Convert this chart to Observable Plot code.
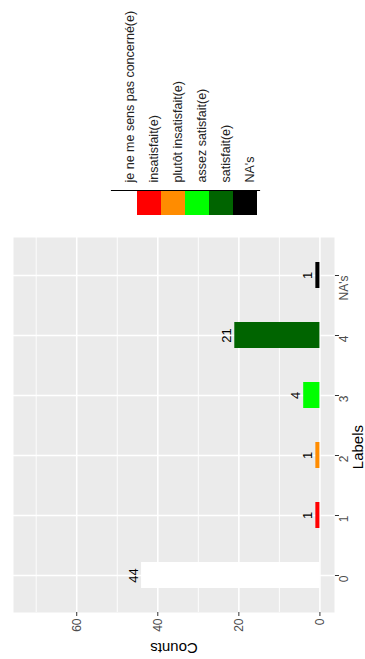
<!DOCTYPE html>
<html>
<head>
<meta charset="utf-8">
<script src="https://cdn.jsdelivr.net/npm/d3@7"></script>
<script src="https://cdn.jsdelivr.net/npm/@observablehq/plot@0.6"></script>
<style>
  html, body { margin: 0; padding: 0; background: #fff; }
  #chart { width: 365px; height: 659px; overflow: hidden; font-family: "Liberation Sans", Arial, sans-serif; }
  #chart svg { display: block; }
</style>
</head>
<body>
<div id="chart"></div>
<script>
// ---- data ----
const categories = ["0", "1", "2", "3", "4", "NA's"];
const counts = [44, 1, 1, 4, 21, 1];
const barColors = ["#ffffff", "#ff0000", "#ff8c00", "#00ff00", "#006400", "#000000"];
const legendLabels = ["je ne me sens pas concerné(e)", "insatisfait(e)", "plutôt insatisfait(e)", "assez satisfait(e)", "satisfait(e)", "NA's"];
const countTicks = [0, 20, 40, 60];
const countMinor = [10, 30, 50, 70];
const countLimits = [0, 72];

const data = categories.map((c, i) => ({label: c, count: counts[i], color: barColors[i]}));
const legendData = legendLabels.map((l, i) => ({label: l, color: barColors[i]}));
const expand = (countLimits[1] - countLimits[0]) * 0.05;
const font = "Liberation Sans, Arial, sans-serif";

// ---- legend (above the plot) ----
const legend = Plot.plot({
  width: 365,
  height: 225,
  marginLeft: 111,
  marginRight: 106,
  marginTop: 190,
  marginBottom: 10,
  style: {fontFamily: font, background: "transparent"},
  x: {type: "band", domain: legendLabels, padding: 0, axis: null},
  color: {type: "identity"},
  marks: [
    Plot.cell(legendData, {x: "label", fill: "color"}),
    Plot.frame({anchor: "top", stroke: "#000", strokeWidth: 1.2}),
    Plot.text(legendData, {x: "label", text: "label", frameAnchor: "top", rotate: -90,
      textAnchor: "start", dy: -8, fontSize: 12.5, fill: "#222"})
  ]
});

// ---- main chart ----
const chart = Plot.plot({
  width: 365,
  height: 434,
  marginLeft: 13,
  marginRight: 31,
  marginTop: 12,
  marginBottom: 47,
  style: {fontFamily: font, background: "transparent", fontSize: "12px"},
  x: {type: "linear", domain: [countLimits[0] - expand, countLimits[1] + expand], reverse: true},
  y: {type: "band", domain: categories.slice().reverse(), paddingInner: 0.57, paddingOuter: 0.385},
  color: {type: "identity"},
  marks: [
    Plot.frame({fill: "#ebebeb"}),
    Plot.ruleX(countMinor, {stroke: "#fff", strokeWidth: 0.9}),
    Plot.ruleX(countTicks, {stroke: "#fff", strokeWidth: 1.6}),
    Plot.gridY({stroke: "#fff", strokeOpacity: 1, strokeWidth: 1.6}),
    Plot.barX(data, {y: "label", x: "count", fill: "color"}),
    Plot.text(data, {y: "label", x: "count", text: d => String(d.count), rotate: -90,
      lineAnchor: "bottom", dx: -4, fontSize: 13, fill: "#000"}),
    Plot.axisX({ticks: countTicks, tickSize: 4, tickPadding: 2, tickRotate: -90, fontSize: 12,
      fill: "#4d4d4d", stroke: "#333", label: null}),
    Plot.axisY({anchor: "right", tickSize: 4, text: null, stroke: "#333", label: null}),
    Plot.text(categories, {y: d => d, text: d => d, frameAnchor: "right", rotate: -90,
      dx: 10, fontSize: 12, fill: "#4d4d4d"}),
    Plot.text(["Counts"], {frameAnchor: "bottom", rotate: 180, dy: 30, fontSize: 15, fill: "#000"}),
    Plot.text(["Labels"], {frameAnchor: "right", rotate: -90, dx: 24, fontSize: 15, fill: "#000"})
  ]
});

const el = document.getElementById("chart");
el.appendChild(legend);
el.appendChild(chart);
</script>
</body>
</html>
